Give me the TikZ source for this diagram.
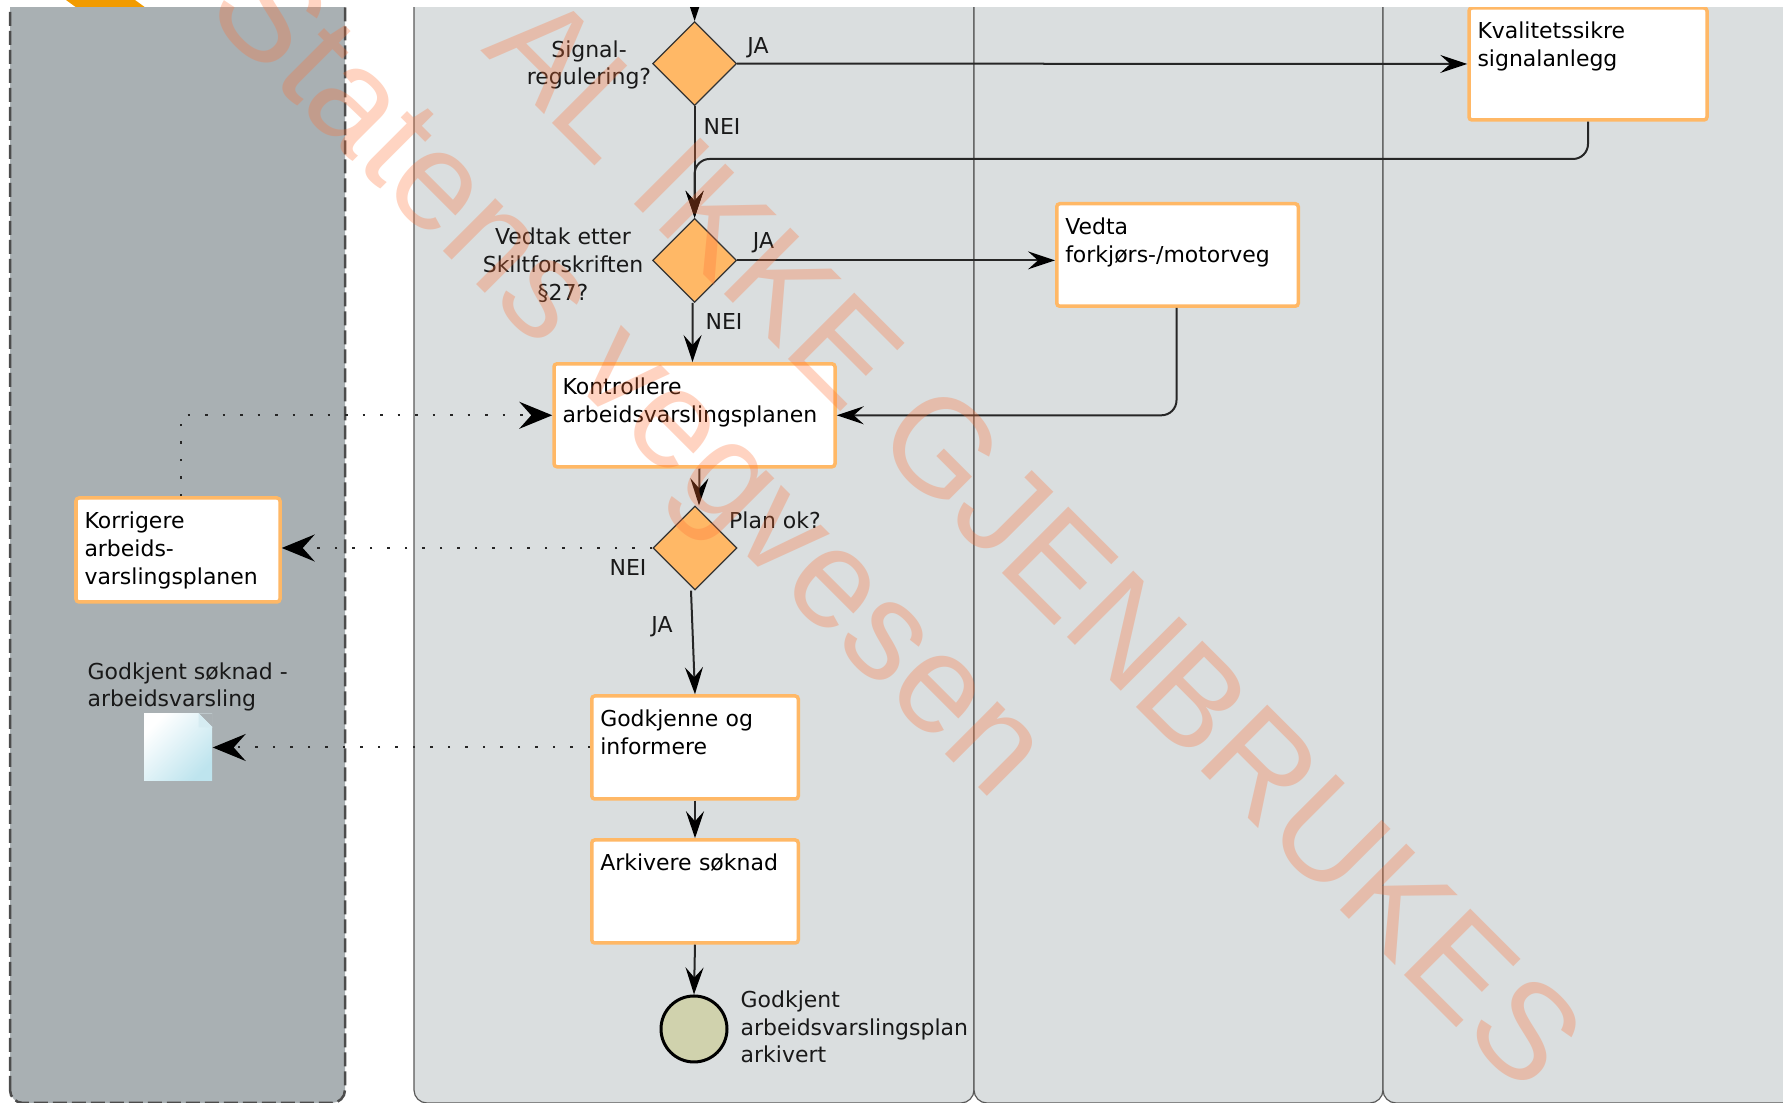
\documentclass[tikz,border=0pt]{standalone}
\usepackage{fontspec}
\setmainfont{DejaVu Sans}
\newfontfamily\stampfont{Liberation Sans}
\usetikzlibrary{arrows.meta,shapes.geometric,positioning}
\definecolor{lanegrey}{HTML}{DADEDF}
\definecolor{poolgrey}{HTML}{A9B0B3}
\definecolor{taskorange}{HTML}{FFB866}
\definecolor{markred}{HTML}{FF7034}
\tikzset{
	lane/.style={draw=black!65, fill=lanegrey, line width=0.012cm, rounded corners=0.13cm},
	pool/.style={draw=black!70, fill=poolgrey, line width=0.025cm, dash pattern=on 0.14cm off 0.05cm, rounded corners=0.13cm},
	task/.style={draw=taskorange, fill=white, line width=0.035cm, rounded corners=0.03cm, inner xsep=0.085cm, inner ysep=0.1cm, text height=0.21cm, align=left},
	choice/.style={diamond, draw=black!80, fill=taskorange, line width=0.012cm, inner sep=0pt, minimum width=0.84cm, minimum height=0.84cm},
	flow/.style={draw=black!85, line width=0.02cm, -{Stealth[length=0.27cm,width=0.18cm,inset=0.1cm,color=black]}},
	message/.style={draw=black!85, line width=0.02cm, dash pattern=on 0.025cm off 0.15cm, -{Stealth[length=0.33cm,width=0.27cm,inset=0.12cm,color=black]}},
	tag/.style={text=black!90, inner sep=0pt},
	stampmark/.style={text=markred, text opacity=0.3, inner sep=0pt, rotate=-45, anchor=base west},
}
\begin{document}
\begin{tikzpicture}[font=\fontsize{6.25}{7.9}\selectfont]
	\useasboundingbox (0,0) rectangle (17.83,11.03);
	\clip (0,0) rectangle (17.83,11.03);

	% Top of the cut off shape
	\fill[color={rgb,255:red,242;green,155;blue,0}] (0.66,11.03) -- (0.77,10.95) -- (1.46,10.95) -- (1.35,11.03) -- cycle;

	% Draw lanes
	\begin{scope}
	\clip (0,0) rectangle (17.83,10.95);
	\draw[pool] (0.10,0) rectangle (3.45,12);
	\draw[lane] (4.14,0) rectangle (9.74,12);
	\draw[lane] (9.74,0) rectangle (13.83,12);
	\draw[lane] (13.83,0) rectangle (18.50,12);
	\coordinate (inn) at (6.946,11.20);

	% Tasks
	\node[task, text width=2.64cm, text depth=0.62cm] (kontroll) at (6.945,6.877) {Kontrollere\\arbeidsvarslingsplanen};
	\node[task, text width=1.87cm, text depth=0.63cm] (korrigere) at (1.78,5.53) {Korrigere\\arbeids-\\varslingsplanen};
	\node[task, text width=1.895cm, text depth=0.62cm] (godkjenne) at (6.95,3.555) {Godkjenne og\\informere};
	\node[task, text width=1.895cm, text depth=0.62cm] (arkivere) at (6.95,2.115) {Arkivere søknad};
	\node[task, text width=2.21cm, text depth=0.71cm] (kvalitet) at (15.88,10.39) {Kvalitetssikre\\signalanlegg};
	\node[task, text width=2.245cm, text depth=0.615cm] (vedta) at (11.775,8.48) {Vedta\\forkjørs-/motorveg};

	% Gateways
	\node[choice] (signal) at (6.946,10.394) {};
	\node[choice] (skilt) at (6.946,8.426) {};
	\node[choice] (plan) at (6.95,5.55) {};

	% End event
	\node[circle, draw=black, fill={rgb,255:red,208;green,210;blue,173}, line width=0.03cm, minimum size=0.66cm, inner sep=0pt] (slutt) at (6.94,0.74) {};

	% Document
	\node[minimum width=0.68cm, minimum height=0.67cm, inner sep=0pt, left color=white, right color={rgb,255:red,190;green,228;blue,238}, shading angle=45] (doc) at (1.78,3.555) {};
	\fill[poolgrey] (doc.north east) -- ++(-0.14,0) -- ++(0.14,-0.14) -- cycle;
	\fill[color={rgb,255:red,214;green,236;blue,242}] ([xshift=-0.14cm]doc.north east) -- ++(0,-0.14) -- ++(0.14,0) -- cycle;

	% Connectors
	\coordinate (knekk) at (6.946,9.44);
	\draw[flow] (inn) -- (signal.north);
	\draw[flow] (signal.east) -- (kvalitet.west);
	\draw[flow] (signal.south) -- (skilt.north);
	\draw[flow, rounded corners=0.15cm] (kvalitet.south) |- (knekk) -- (skilt.north);
	\draw[flow] (skilt.east) -- (skilt.east -| vedta.west);
	\draw[flow] ([xshift=-0.02cm]skilt.south) -- ([xshift=-0.02cm]kontroll.north);
	\draw[flow, rounded corners=0.15cm] ([xshift=-0.01cm]vedta.south) |- (kontroll.east);
	\draw[flow] ([xshift=0.05cm]kontroll.south) -- ([xshift=0.04cm]plan.north);
	\draw[flow] ([xshift=-0.04cm]plan.south) -- (godkjenne.north);
	\draw[flow] (godkjenne.south) -- (arkivere.north);
	\draw[flow] (arkivere.south) -- (slutt.north);

	% Message flows
	\draw[message] (plan.west) -- (plan.west -| korrigere.east);
	\draw[message] ([xshift=0.03cm]korrigere.north) |- (kontroll.west);
	\draw[message] (godkjenne.west) -- (godkjenne.west -| doc.east);
	\end{scope}

	% Labels
	\node[tag, align=center] (signaltxt) at (5.89,10.38) {Signal-\\regulering?};
	\node[tag] (signalja) at (7.58,10.55) {JA};
	\node[tag] (signalnei) at (7.22,9.76) {NEI};
	\node[tag, align=center] (skilttxt) at (5.63,8.38) {Vedtak etter\\Skiltforskriften\\§27?};
	\node[tag] (skiltja) at (7.635,8.60) {JA};
	\node[tag] (skiltnei) at (7.24,7.81) {NEI};
	\node[tag] (plantxt) at (7.75,5.83) {Plan ok?};
	\node[tag] (plannei) at (6.28,5.35) {NEI};
	\node[tag] (planja) at (6.62,4.76) {JA};
	\node[tag, align=left, anchor=west] (doctxt) at (0.87,4.16) {Godkjent søknad -\\arbeidsvarsling};
	\node[tag, align=left, anchor=west] (sluttxt) at (7.40,0.76) {Godkjent\\arbeidsvarslingsplan\\arkivert};

	% Stamp over everything
	\node[stampmark, font=\stampfont\fontsize{38.8}{38.8}\selectfont] (stamp) at (4.80,10.525) {AL IKKE GJENBRUKES};
	\node[stampmark, font=\stampfont\fontsize{40}{40}\selectfont] (etat) at (2.034,10.906) {Statens vegvesen};
\end{tikzpicture}
\end{document}
